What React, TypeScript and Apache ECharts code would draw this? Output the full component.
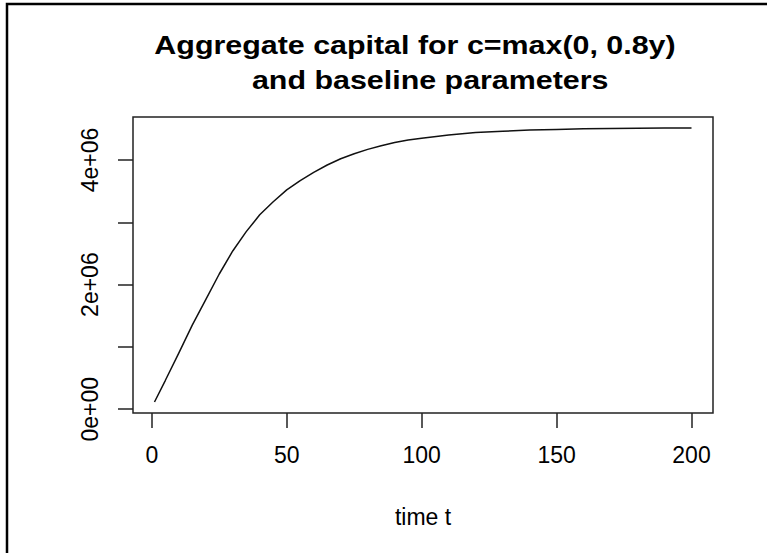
import React, { useEffect, useRef } from "react";
import * as echarts from "echarts";

// Aggregate capital path over time (values read at sample times)
const TIME_T = [
  1, 5, 10, 15, 20, 25, 30, 35, 40, 45, 50, 55, 60, 65, 70, 75, 80, 85, 90, 95,
  100, 110, 120, 130, 140, 150, 160, 170, 180, 190, 200,
];
const CAPITAL = [
  115000, 460000, 900000, 1350000, 1760000, 2170000, 2540000, 2850000, 3120000,
  3330000, 3520000, 3670000, 3800000, 3920000, 4020000, 4100000, 4170000,
  4230000, 4280000, 4320000, 4350000, 4400000, 4440000, 4460000, 4480000,
  4490000, 4500000, 4505000, 4510000, 4512000, 4514000,
];

const X_TICKS = [0, 50, 100, 150, 200];
const Y_TICKS = [0, 1000000, 2000000, 3000000, 4000000];
const Y_LABELS = [0, 2000000, 4000000];

const TITLE_LINES = ["Aggregate capital for c=max(0, 0.8y)", " and baseline parameters"];
const X_NAME = "time t";

const FONT = '"Liberation Sans", Arial, Helvetica, sans-serif';

// 4% padding on each side of the data range, like base R graphics
function padRange(values: number[]): [number, number] {
  const lo = Math.min(...values);
  const hi = Math.max(...values);
  const d = (hi - lo) * 0.04;
  return [lo - d, hi + d];
}

function sci(v: number): string {
  if (v === 0) return "0e+00";
  const e = Math.floor(Math.log10(Math.abs(v)));
  const m = v / Math.pow(10, e);
  return `${m}e+${String(e).padStart(2, "0")}`;
}

export default function App() {
  const ref = useRef<HTMLDivElement>(null);

  useEffect(() => {
    if (!ref.current) return;
    const chart = echarts.init(ref.current, null, { renderer: "svg" });
    const [xMin, xMax] = padRange(TIME_T);
    const [yMin, yMax] = padRange(CAPITAL);

    chart.setOption({
      animation: false,
      backgroundColor: "#ffffff",
      grid: {
        left: 133,
        right: 54,
        top: 117,
        bottom: 140,
        show: true,
        borderColor: "#222",
        borderWidth: 1.5,
        backgroundColor: "transparent",
      },
      xAxis: {
        type: "value",
        min: xMin,
        max: xMax,
        axisLine: { show: false, onZero: false },
        splitLine: { show: false },
        axisTick: {
          show: true,
          inside: false,
          length: 15,
          customValues: X_TICKS,
          lineStyle: { color: "#222", width: 1.5 },
        },
        axisLabel: {
          customValues: X_TICKS,
          margin: 30,
          color: "#000",
          fontSize: 23,
          fontFamily: FONT,
        },
        name: X_NAME,
        nameLocation: "middle",
        nameGap: 92,
        nameTextStyle: { color: "#000", fontSize: 23, fontFamily: FONT },
      },
      yAxis: {
        type: "value",
        min: yMin,
        max: yMax,
        axisLine: { show: false, onZero: false },
        splitLine: { show: false },
        axisTick: {
          show: true,
          inside: false,
          length: 15,
          customValues: Y_TICKS,
          lineStyle: { color: "#222", width: 1.5 },
        },
        axisLabel: {
          customValues: Y_LABELS,
          rotate: 90,
          margin: 32,
          color: "#000",
          fontSize: 23,
          fontFamily: FONT,
          formatter: (v: number) => sci(v),
        },
      },
      series: [
        {
          type: "line",
          data: TIME_T.map((t, i) => [t, CAPITAL[i]]),
          showSymbol: false,
          symbol: "none",
          lineStyle: { color: "#111", width: 1.5 },
        },
      ],
      graphic: [
        {
          type: "polyline",
          shape: { points: [[7, 553], [7, 4], [767, 4]] },
          style: { stroke: "#000", lineWidth: 2.5, fill: "none" },
        },
        {
          type: "text",
          x: 415,
          y: 45,
          scaleX: 1.17,
          style: {
            text: TITLE_LINES[0],
            align: "center",
            verticalAlign: "middle",
            textAlign: "center",
            textVerticalAlign: "middle",
            font: `bold 26px ${FONT}`,
            fill: "#000",
          },
        },
        {
          type: "text",
          x: 426,
          y: 80,
          scaleX: 1.17,
          style: {
            text: TITLE_LINES[1],
            align: "center",
            verticalAlign: "middle",
            textAlign: "center",
            textVerticalAlign: "middle",
            font: `bold 26px ${FONT}`,
            fill: "#000",
          },
        },
      ],
    });

    return () => chart.dispose();
  }, []);

  return (
    <div
      ref={ref}
      style={{ position: "absolute", left: 0, top: 0, width: 767, height: 553, background: "#fff" }}
    />
  );
}
